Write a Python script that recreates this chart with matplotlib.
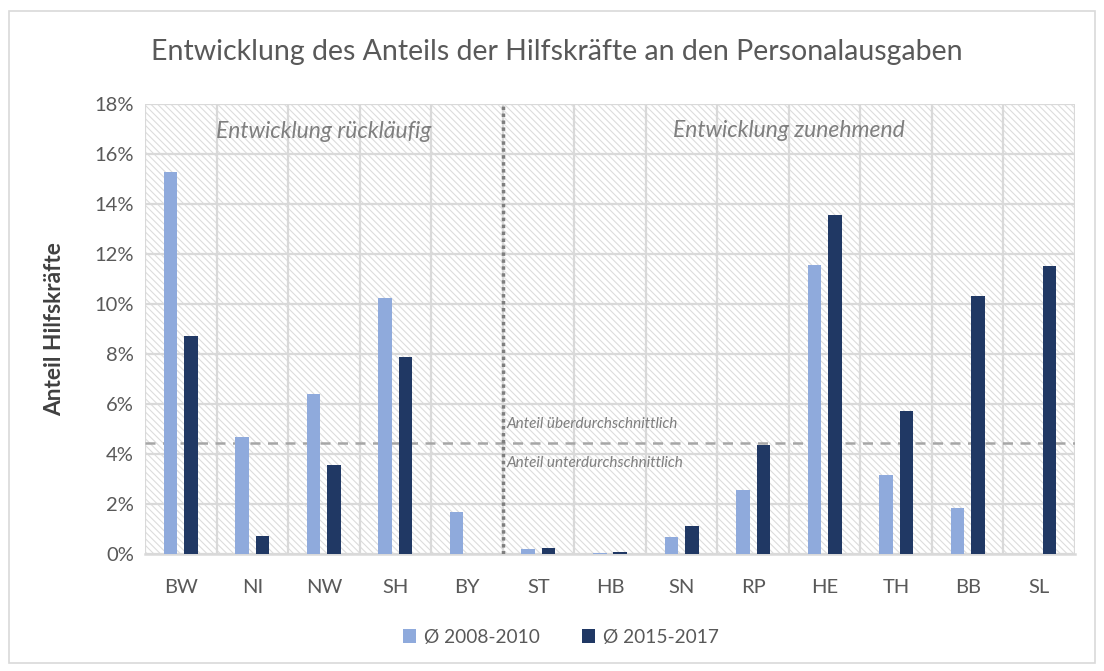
import numpy as np
import matplotlib
matplotlib.use("Agg")
import matplotlib.pyplot as plt
from matplotlib.patches import Rectangle
from matplotlib.ticker import PercentFormatter

plt.rcParams["font.family"] = ["Lato", "DejaVu Sans"]
plt.rcParams["hatch.linewidth"] = 0.8

# Daten
laender = ["BW", "NI", "NW", "SH", "BY", "ST", "HB", "SN", "RP", "HE", "TH", "BB", "SL"]
anteil_2008_2010 = [15.3, 4.68, 6.41, 10.25, 1.68, 0.2, 0.04, 0.69, 2.55, 11.56, 3.15, 1.84, 0.0]
anteil_2015_2017 = [8.74, 0.73, 3.55, 7.9, 0.0, 0.25, 0.08, 1.12, 4.35, 13.56, 5.71, 10.33, 11.51]
durchschnitt = 4.46
trenner = 4.5  # zwischen BY und ST

hell = "#8faadc"
dunkel = "#203864"
grau_text = "#595959"
grid_farbe = "#d9d9d9"

fig = plt.figure(figsize=(11.04, 6.71), dpi=100)
ax = fig.add_axes([145 / 1104, 117 / 671, 930 / 1104, 450 / 671])

# Rahmen um das ganze Diagramm
fig.patches.append(Rectangle((9 / 1104, 8 / 671), 1086 / 1104, 652 / 671,
                             transform=fig.transFigure, fill=False,
                             edgecolor="#d9d9d9", linewidth=1.2))

# schraffierter Hintergrund
ax.patch.set_facecolor("white")
ax.patch.set_hatch("\\\\\\\\\\")
ax.patch.set_edgecolor("#dcdcdc")

x = np.arange(len(laender))
breite = 0.19
ax.bar(x - 0.143, anteil_2008_2010, breite, color=hell, label="Ø 2008-2010", zorder=3)
ax.bar(x + 0.143, anteil_2015_2017, breite, color=dunkel, label="Ø 2015-2017", zorder=3)

ax.set_xlim(-0.5, len(laender) - 0.5)
ax.set_ylim(0, 18)
ax.set_yticks(np.arange(0, 19, 2))
ax.yaxis.set_major_formatter(PercentFormatter(decimals=0))
ax.set_xticks(x)
ax.set_xticklabels(laender)
ax.set_xticks(np.arange(-0.5, len(laender), 1), minor=True)

ax.grid(axis="y", color=grid_farbe, linewidth=1.6, zorder=1)
ax.grid(axis="x", which="minor", color=grid_farbe, linewidth=1.6, zorder=1)
ax.grid(axis="x", which="major", visible=False)
ax.set_axisbelow(True)

for s in ["top", "right", "left"]:
    ax.spines[s].set_visible(False)
ax.spines["bottom"].set_color(grid_farbe)
ax.spines["bottom"].set_linewidth(1.8)

ax.tick_params(axis="both", which="both", length=0, colors=grau_text, labelsize=14.5)
ax.tick_params(axis="x", pad=18)
ax.tick_params(axis="y", pad=8)

# Trennlinie und Durchschnittslinie
ax.axvline(trenner, color="#7f7f7f", linestyle=(0, (1, 1)), linewidth=2.5, zorder=4)
ax.axhline(durchschnitt, color="#a6a6a6", linestyle=(0, (4, 3)), linewidth=1.8, zorder=2)

ax.text(2.0, 16.9, "Entwicklung rückläufig", style="italic", color="#7f7f7f",
        fontsize=16.5, ha="center", va="center")
ax.text(8.5, 16.95, "Entwicklung zunehmend", style="italic", color="#7f7f7f",
        fontsize=16.5, ha="center", va="center")
ax.text(4.56, 5.2, "Anteil überdurchschnittlich", style="italic", color="#7f7f7f",
        fontsize=11, ha="left", va="center")
ax.text(4.56, 3.65, "Anteil unterdurchschnittlich", style="italic", color="#7f7f7f",
        fontsize=11, ha="left", va="center")

ax.set_ylabel("Anteil Hilfskräfte", fontsize=16.4, fontweight="bold", color="#404040")
ax.yaxis.set_label_coords(-0.086, 0.5)

fig.text(557 / 1104, 1 - 52 / 671, "Entwicklung des Anteils der Hilfskräfte an den Personalausgaben",
         ha="center", va="center", fontsize=20.5, color=grau_text)

leg = ax.legend(loc="center", bbox_to_anchor=(561 / 1104, 34 / 671), bbox_transform=fig.transFigure,
                ncol=2, frameon=False, fontsize=13.8, handlelength=0.7, handleheight=0.7,
                handletextpad=0.4, columnspacing=2.2)
for t in leg.get_texts():
    t.set_color(grau_text)

fig.savefig("out.png", dpi=100)
